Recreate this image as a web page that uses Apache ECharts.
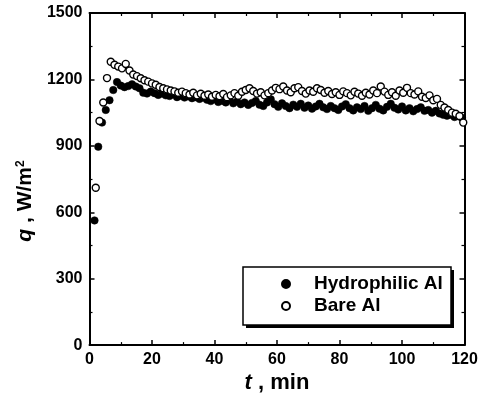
<!DOCTYPE html>
<html>
<head>
<meta charset="utf-8">
<script src="https://cdn.jsdelivr.net/npm/echarts@6/dist/echarts.min.js"></script>
<style>
  html, body { margin: 0; padding: 0; background: #fff; }
  #chart { width: 485px; height: 399px; }
</style>
</head>
<body>
<div id="chart"></div>
<script>
// time in minutes, one reading every 1.2 min
const times = [
  1.6, 2.8, 4.0, 5.2, 6.4, 7.6, 8.8, 10.0, 11.2, 12.4,
  13.6, 14.8, 16.0, 17.2, 18.4, 19.6, 20.8, 22.0, 23.2, 24.4,
  25.6, 26.8, 28.0, 29.2, 30.4, 31.6, 32.8, 34.0, 35.2, 36.4,
  37.6, 38.8, 40.0, 41.2, 42.4, 43.6, 44.8, 46.0, 47.2, 48.4,
  49.6, 50.8, 52.0, 53.2, 54.4, 55.6, 56.8, 58.0, 59.2, 60.4,
  61.6, 62.8, 64.0, 65.2, 66.4, 67.6, 68.8, 70.0, 71.2, 72.4,
  73.6, 74.8, 76.0, 77.2, 78.4, 79.6, 80.8, 82.0, 83.2, 84.4,
  85.6, 86.8, 88.0, 89.2, 90.4, 91.6, 92.8, 94.0, 95.2, 96.4,
  97.6, 98.8, 100.0, 101.2, 102.4, 103.6, 104.8, 106.0, 107.2, 108.4,
  109.6, 110.8, 112.0, 113.2, 114.4, 115.6, 116.8, 118.0, 119.2
];

// heat flux q, W/m2
const hydrophilicAl = [
  563, 896, 1005, 1062, 1106, 1152, 1188, 1172, 1165, 1170,
  1178, 1168, 1160, 1140, 1136, 1145, 1138, 1130, 1136, 1128,
  1125, 1132, 1120, 1126, 1118, 1124, 1115, 1120, 1112, 1118,
  1108, 1102, 1110, 1098, 1104, 1096, 1108, 1092, 1100, 1088,
  1096, 1085, 1094, 1102, 1086, 1080, 1096, 1110, 1088, 1076,
  1092, 1080, 1070, 1086, 1076, 1090, 1072, 1082, 1068, 1078,
  1090, 1074, 1066, 1080, 1070, 1062, 1078, 1088, 1070, 1060,
  1074, 1066, 1080, 1058, 1070, 1085, 1068, 1060, 1076, 1090,
  1072, 1064, 1078, 1060, 1070, 1056, 1066, 1074, 1058, 1062,
  1050, 1058, 1046, 1040, 1036, 1040, 1030, 1034, 1026
];

const bareAl = [
  711, 1012, 1096, 1206, 1280, 1266, 1258, 1250, 1270, 1240,
  1222, 1215, 1205, 1196, 1190, 1182, 1176, 1166, 1160, 1155,
  1150, 1146, 1140, 1145, 1138, 1132, 1140, 1128, 1135, 1126,
  1132, 1122, 1130, 1124, 1134, 1120, 1128, 1138, 1126, 1144,
  1152, 1160, 1148, 1136, 1142, 1128, 1138, 1150, 1162, 1156,
  1168, 1150, 1142, 1160, 1165, 1148, 1136, 1150, 1144, 1160,
  1152, 1140, 1148, 1134, 1142, 1130, 1146, 1138, 1128, 1144,
  1136, 1126, 1140, 1132, 1150, 1138, 1168, 1145, 1130, 1142,
  1126, 1150, 1140, 1162, 1138, 1132, 1146, 1122, 1116, 1128,
  1106, 1112, 1085, 1073, 1062, 1050, 1045, 1035, 1005
];

const seriesNames = ['Hydrophilic Al', 'Bare Al'];

const chart = echarts.init(document.getElementById('chart'));

const font = 'Liberation Sans, Arial, sans-serif';
const axisCommon = {
  axisLine: { show: true, onZero: false, lineStyle: { color: '#000', width: 2 } },
  axisTick: { show: true, inside: true, length: 5, lineStyle: { color: '#000', width: 1.5 } },
  minorTick: { show: true, splitNumber: 2, length: 3, lineStyle: { color: '#000', width: 1.2 } },
  splitLine: { show: false }
};
const tickLabel = {
  color: '#000', fontSize: 16, fontWeight: 'bold', fontFamily: font,
  formatter: (v) => String(v)
};

chart.setOption({
  backgroundColor: '#fff',
  animation: false,
  textStyle: { fontFamily: font },
  grid: { left: 89.5, right: 20.5, top: 13, bottom: 51 },
  xAxis: [
    {
      type: 'value', min: 0, max: 120, interval: 20, position: 'bottom',
      ...axisCommon,
      axisLabel: { ...tickLabel, margin: 6 },
      name: '{i|t} , min',
      nameLocation: 'middle',
      nameGap: 26,
      nameTextStyle: {
        color: '#000', fontSize: 22, fontWeight: 'bold', fontFamily: font,
        rich: { i: { fontStyle: 'italic', fontSize: 22, fontWeight: 'bold', fontFamily: font } }
      }
    },
    {
      type: 'value', min: 0, max: 120, interval: 20, position: 'top',
      ...axisCommon,
      axisLabel: { show: false }
    }
  ],
  yAxis: [
    {
      type: 'value', min: 0, max: 1500, interval: 300, position: 'left',
      ...axisCommon,
      axisLabel: { ...tickLabel, margin: 7 }
    },
    {
      type: 'value', min: 0, max: 1500, interval: 300, position: 'right',
      ...axisCommon,
      axisLabel: { show: false }
    }
  ],
  legend: {
    data: seriesNames,
    orient: 'vertical',
    left: 243,
    top: 267,
    padding: [7, 9, 9, 38],
    itemWidth: 8,
    itemHeight: 8,
    itemGap: 2,
    icon: 'circle',
    z: 10,
    textStyle: {
      color: '#000', fontSize: 19, fontWeight: 'bold', fontFamily: font,
      lineHeight: 20, padding: [0, 0, 0, 19]
    }
  },
  graphic: [
    {
      type: 'rect',
      shape: { x: 246, y: 270, width: 208, height: 58 },
      style: { fill: '#000' },
      z: 5
    },
    {
      type: 'rect',
      shape: { x: 243, y: 267, width: 208, height: 58 },
      style: { fill: '#fff', stroke: '#000', lineWidth: 1.5 },
      z: 6
    },
    {
      type: 'text',
      x: 25,
      y: 201,
      rotation: Math.PI / 2,
      style: {
        text: '{i|q} , W/m{s|2}',
        fill: '#000',
        font: 'bold 21px ' + font,
        align: 'center',
        verticalAlign: 'middle',
        rich: {
          i: { fontStyle: 'italic', fontWeight: 'bold', fontSize: 21, fontFamily: font },
          s: { fontWeight: 'bold', fontSize: 12, fontFamily: font, verticalAlign: 'top' }
        }
      }
    }
  ],
  series: [
    {
      name: seriesNames[0],
      type: 'scatter',
      symbol: 'circle',
      symbolSize: 7.5,
      itemStyle: { color: '#000', borderColor: '#000', borderWidth: 0.5, opacity: 1 },
      data: times.map((t, i) => [t, hydrophilicAl[i]]),
      z: 2
    },
    {
      name: seriesNames[1],
      type: 'scatter',
      symbol: 'circle',
      symbolSize: 7,
      itemStyle: { color: '#fff', borderColor: '#000', borderWidth: 1.4, opacity: 1 },
      data: times.map((t, i) => [t + 0.4, bareAl[i]]),
      z: 3
    }
  ]
});
</script>
</body>
</html>
